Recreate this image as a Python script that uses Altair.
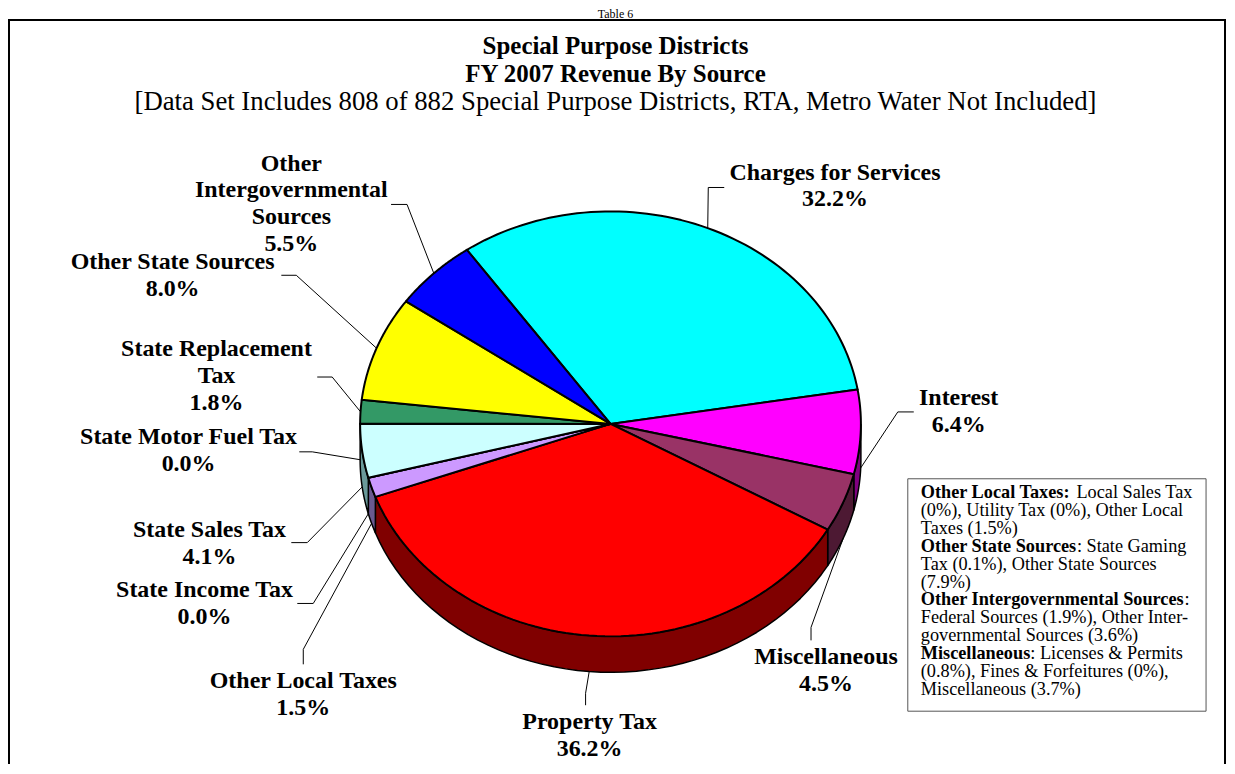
import math
import altair as alt
import pandas as pd

# ---------------- data ----------------
categories = ["Charges for Services", "Interest", "Miscellaneous", "Property Tax",
              "Other Local Taxes", "State Income Tax", "State Sales Tax",
              "State Motor Fuel Tax", "State Replacement Tax", "Other State Sources",
              "Other Intergovernmental Sources"]
values = [32.2, 6.4, 4.5, 36.2, 1.5, 0.0, 4.1, 0.0, 1.8, 8.0, 5.5]
label_lines = [["Charges for Services"], ["Interest"], ["Miscellaneous"], ["Property Tax"],
               ["Other Local Taxes"], ["State Income Tax"], ["State Sales Tax"],
               ["State Motor Fuel Tax"], ["State Replacement", "Tax"], ["Other State Sources"],
               ["Other", "Intergovernmental", "Sources"]]
top_colors = ["#00FFFF", "#FF00FF", "#993366", "#FF0000", "#CC99FF", "#000000",
              "#CCFFFF", "#000000", "#339966", "#FFFF00", "#0000FF"]
side_colors = ["#008080", "#800080", "#4D1933", "#800000", "#6A5A90", "#000000",
               "#6A9A9A", "#000000", "#1A4D33", "#808000", "#000080"]

title_bold = ["Special Purpose Districts", "FY 2007 Revenue By Source"]
subtitle = "[Data Set Includes 808 of  882 Special Purpose Districts, RTA, Metro Water Not Included]"
table_caption = "Table 6"
note_lines = [
    ("Other Local Taxes:", " Local Sales Tax"),
    ("", "(0%), Utility Tax (0%), Other Local"),
    ("", "Taxes (1.5%)"),
    ("Other State Sources", ": State Gaming"),
    ("", "Tax (0.1%), Other State Sources"),
    ("", "(7.9%)"),
    ("Other Intergovernmental Sources", ":"),
    ("", "Federal Sources (1.9%), Other Inter-"),
    ("", "governmental Sources (3.6%)"),
    ("Miscellaneous", ":  Licenses & Permits"),
    ("", "(0.8%), Fines & Forfeitures (0%),"),
    ("", "Miscellaneous (3.7%)"),
]

# ---------------- layout / style ----------------
W, H = 1222, 756                 # plot area (page coords 8..1230, 8..764)
CX, CY, RX, RY, DEPTH = 612, 424, 251, 213, 36
START = math.radians(-35)
N = 72
M = 48
FONT = "Liberation Serif"
LABEL_FS = 24
LINE_H = 27

label_pos = {
    "Charges for Services": (837, 172),
    "Interest": (961, 398),
    "Miscellaneous": (828, 658),
    "Property Tax": (591, 723),
    "Other Local Taxes": (304, 682),
    "State Income Tax": (205, 591),
    "State Sales Tax": (210, 530),
    "State Motor Fuel Tax": (189, 437),
    "State Replacement Tax": (217, 349),
    "Other State Sources": (173, 262),
    "Other Intergovernmental Sources": (292, 163),
}
leader_pts = {
    "Charges for Services": ((726, 187), (710, 187)),
    "Interest": ((916, 412), (900, 412)),
    "Miscellaneous": ((813, 641), (813, 628)),
    "Property Tax": ((587, 706), (587, 694)),
    "Other Local Taxes": ((304, 665), (304, 650)),
    "State Income Tax": ((298, 604), (314, 604)),
    "State Sales Tax": ((292, 543), (308, 543)),
    "State Motor Fuel Tax": ((300, 452), (313, 452)),
    "State Replacement Tax": ((318, 377), (333, 377)),
    "Other State Sources": ((282, 275), (297, 275)),
    "Other Intergovernmental Sources": ((392, 204), (408, 204)),
}

slices = pd.DataFrame({
    "idx": list(range(len(categories))),
    "name": categories,
    "value": values,
    "fill": top_colors,
    "side": side_colors,
    "lx": [leader_pts[c][0][0] for c in categories],
    "ly": [leader_pts[c][0][1] for c in categories],
    "ex": [leader_pts[c][1][0] for c in categories],
    "ey": [leader_pts[c][1][1] for c in categories],
})

X = alt.X("x:Q", scale=alt.Scale(domain=[8, 8 + W], nice=False, zero=False), axis=None)
Y = alt.Y("y:Q", scale=alt.Scale(domain=[8, 8 + H], reverse=True, nice=False, zero=False), axis=None)

base = (alt.Chart(slices)
        .transform_joinaggregate(total="sum(value)")
        .transform_window(cum="sum(value)", sort=[alt.SortField("idx", order="ascending")], frame=[None, 0])
        .transform_calculate(
            a0=f"{START} + 2*PI*(datum.cum - datum.value)/datum.total",
            a1=f"{START} + 2*PI*datum.cum/datum.total"))

# side walls (front half only)
walls = (base
         .transform_calculate(b0="max(datum.a0, PI/2)", b1="min(datum.a1, 3*PI/2)")
         .transform_filter("datum.b1 > datum.b0 && datum.value > 0")
         .transform_calculate(k=f"sequence(0, {2 * M + 3})")
         .transform_flatten(["k"])
         .transform_calculate(
             t=(f"datum.k <= {M} ? datum.b0 + (datum.b1 - datum.b0)*datum.k/{M} : "
                f"(datum.k <= {2 * M + 1} ? datum.b1 - (datum.b1 - datum.b0)*(datum.k - {M + 1})/{M} : datum.b0)"),
             low=f"datum.k > {M} && datum.k <= {2 * M + 1}")
         .transform_calculate(
             x=f"{CX} + {RX}*sin(datum.t)",
             y=f"{CY} - {RY}*cos(datum.t) + (datum.low ? {DEPTH} : 0)")
         .mark_line(stroke="black", strokeWidth=1.5, strokeJoin="round")
         .encode(x=X, y=Y, order=alt.Order("k:Q"), detail="name:N",
                 fill=alt.Fill("side:N", scale=None)))

# top faces
tops = (base
        .transform_calculate(k=f"sequence(0, {N + 3})")
        .transform_flatten(["k"])
        .transform_calculate(
            t=f"datum.a0 + (datum.a1 - datum.a0)*(datum.k - 1)/{N}",
            ctr=f"datum.k == 0 || datum.k == {N + 2}")
        .transform_calculate(
            x=f"datum.ctr ? {CX} : {CX} + {RX}*sin(datum.t)",
            y=f"datum.ctr ? {CY} : {CY} - {RY}*cos(datum.t)")
        .mark_line(stroke="black", strokeWidth=2, strokeJoin="round")
        .encode(x=X, y=Y, order=alt.Order("k:Q"), detail="name:N",
                fill=alt.Fill("fill:N", scale=None)))

# leader lines
leaders = (base
           .transform_calculate(m="(datum.a0 + datum.a1)/2")
           .transform_calculate(
               px=f"{CX} + {RX}*sin(datum.m)",
               py=f"{CY} - {RY}*cos(datum.m) + (cos(datum.m) < 0.01 ? {DEPTH} : 0)",
               k="sequence(0, 3)")
           .transform_flatten(["k"])
           .transform_calculate(
               x="datum.k == 0 ? datum.lx : (datum.k == 1 ? datum.ex : datum.px)",
               y="datum.k == 0 ? datum.ly : (datum.k == 1 ? datum.ey : datum.py)")
           .mark_line(color="black", strokeWidth=1)
           .encode(x=X, y=Y, order=alt.Order("k:Q"), detail="name:N"))

# slice labels
rows = []
for c, v, lines in zip(categories, values, label_lines):
    lx, ly = label_pos[c]
    for j, t in enumerate(lines + [f"{v:.1f}%"]):
        rows.append({"text": t, "x": lx, "y": ly + j * LINE_H})
labels = (alt.Chart(pd.DataFrame(rows))
          .mark_text(font=FONT, fontSize=LABEL_FS, fontWeight="bold", align="center",
                     baseline="middle", color="black")
          .encode(x=X, y=Y, text="text:N"))

# titles
tdf = pd.DataFrame({"text": title_bold, "x": [617, 617], "y": [45, 73]})
titles = (alt.Chart(tdf)
          .mark_text(font=FONT, fontSize=25, fontWeight="bold", align="center", baseline="middle",
                     color="black")
          .encode(x=X, y=Y, text="text:N"))
sub = (alt.Chart(pd.DataFrame({"text": [subtitle], "x": [617], "y": [101]}))
       .mark_text(font=FONT, fontSize=26.8, align="center", baseline="middle", color="black")
       .encode(x=X, y=Y, text="text:N"))
cap = (alt.Chart(pd.DataFrame({"text": [table_caption], "x": [617], "y": [17]}))
       .mark_text(font=FONT, fontSize=12, align="center", baseline="alphabetic", color="black")
       .encode(x=X, y=Y, text="text:N"))

# note box
BOLD_W = {"O": .778, "t": .333, "h": .556, "e": .444, "r": .444, " ": .25, "L": .667, "o": .5,
          "c": .444, "a": .5, "l": .278, "T": .667, "x": .5, "s": .389, ":": .333, "S": .556,
          "u": .556, "I": .389, "n": .556, "g": .5, "v": .5, "m": .833, "M": .944, "i": .278}
NOTE_FS = 18.3
NOTE_X, NOTE_Y0, NOTE_LH = 923, 493, 18
brows, rrows = [], []
for i, (b, r) in enumerate(note_lines):
    y = NOTE_Y0 + i * NOTE_LH
    bw = sum(BOLD_W.get(ch, 0.5) for ch in b) * NOTE_FS
    if b:
        brows.append({"text": b, "x": NOTE_X, "y": y})
    lead = len(r) - len(r.lstrip(" "))
    rrows.append({"text": r.lstrip(" "), "x": NOTE_X + bw + lead * 0.25 * NOTE_FS, "y": y})
note_bold = (alt.Chart(pd.DataFrame(brows))
             .mark_text(font=FONT, fontSize=NOTE_FS, fontWeight="bold", align="left",
                        baseline="middle", color="black")
             .encode(x=X, y=Y, text="text:N"))
note_reg = (alt.Chart(pd.DataFrame(rrows))
            .mark_text(font=FONT, fontSize=NOTE_FS, align="left", baseline="middle", color="black")
            .encode(x=X, y=Y, text="text:N"))
note_box = (alt.Chart(pd.DataFrame({"x": [910], "x2": [1209], "y": [479], "y2": [712]}))
            .mark_rect(fill="white", stroke="#555555", strokeWidth=1)
            .encode(x=X, x2="x2:Q", y=Y, y2="y2:Q"))

frame = (alt.Chart(pd.DataFrame({"x": [9], "x2": [1228], "y": [19], "y2": [800]}))
         .mark_rect(fill="transparent", stroke="black", strokeWidth=2)
         .encode(x=X, x2="x2:Q", y=Y, y2="y2:Q"))

chart = (alt.layer(frame, walls, tops, leaders, labels, note_box, note_bold, note_reg,
                   titles, sub, cap)
         .properties(width=W, height=H, padding=0, autosize="none", background="white")
         .configure_view(strokeWidth=0))

chart.save("out.html", embed_options={"renderer": "svg", "actions": False})
